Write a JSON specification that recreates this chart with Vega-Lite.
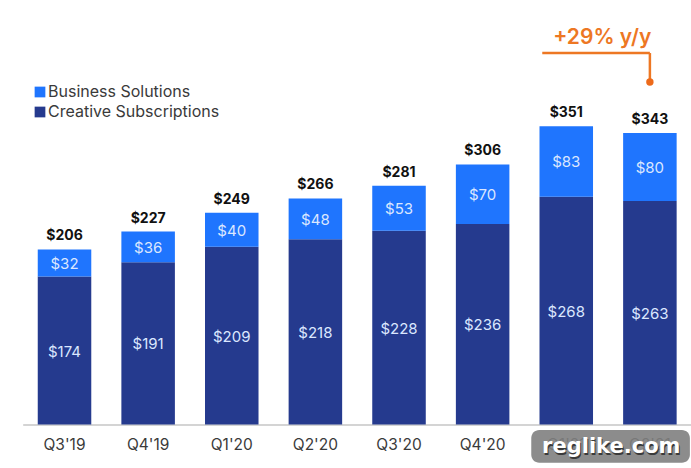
{
  "$schema": "https://vega.github.io/schema/vega-lite/v6.json",
  "width": 691,
  "height": 468,
  "padding": 0,
  "autosize": "none",
  "background": "white",
  "datasets": {
    "revenue": [
      {"quarter": "Q3'19", "segment": "Creative Subscriptions", "rank": 1, "revenue": 174},
      {"quarter": "Q3'19", "segment": "Business Solutions", "rank": 2, "revenue": 32},
      {"quarter": "Q4'19", "segment": "Creative Subscriptions", "rank": 1, "revenue": 191},
      {"quarter": "Q4'19", "segment": "Business Solutions", "rank": 2, "revenue": 36},
      {"quarter": "Q1'20", "segment": "Creative Subscriptions", "rank": 1, "revenue": 209},
      {"quarter": "Q1'20", "segment": "Business Solutions", "rank": 2, "revenue": 40},
      {"quarter": "Q2'20", "segment": "Creative Subscriptions", "rank": 1, "revenue": 218},
      {"quarter": "Q2'20", "segment": "Business Solutions", "rank": 2, "revenue": 48},
      {"quarter": "Q3'20", "segment": "Creative Subscriptions", "rank": 1, "revenue": 228},
      {"quarter": "Q3'20", "segment": "Business Solutions", "rank": 2, "revenue": 53},
      {"quarter": "Q4'20", "segment": "Creative Subscriptions", "rank": 1, "revenue": 236},
      {"quarter": "Q4'20", "segment": "Business Solutions", "rank": 2, "revenue": 70},
      {"quarter": "Q1'21", "segment": "Creative Subscriptions", "rank": 1, "revenue": 268},
      {"quarter": "Q1'21", "segment": "Business Solutions", "rank": 2, "revenue": 83},
      {"quarter": "Q2'21", "segment": "Creative Subscriptions", "rank": 1, "revenue": 263},
      {"quarter": "Q2'21", "segment": "Business Solutions", "rank": 2, "revenue": 80}
    ],
    "totals": [
      {"quarter": "Q3'19", "total": 206},
      {"quarter": "Q4'19", "total": 227},
      {"quarter": "Q1'20", "total": 249},
      {"quarter": "Q2'20", "total": 266},
      {"quarter": "Q3'20", "total": 281},
      {"quarter": "Q4'20", "total": 306},
      {"quarter": "Q1'21", "total": 351},
      {"quarter": "Q2'21", "total": 343}
    ]
  },
  "encoding": {
    "x": {
      "field": "quarter",
      "type": "nominal",
      "sort": null,
      "title": null,
      "scale": {"range": [22.7, 691.7], "paddingInner": 0.36, "paddingOuter": 0.18},
      "axis": {
        "offset": -43.5,
        "labelAngle": 0,
        "labelFont": "Inter",
        "labelFontSize": 15.5,
        "labelColor": "#3a3a3a",
        "labelPadding": 13,
        "ticks": false,
        "domainColor": "#a9a9a9",
        "domainWidth": 1
      }
    }
  },
  "layer": [
    {
      "data": {"name": "revenue"},
      "mark": {"type": "bar"},
      "encoding": {
        "y": {
          "field": "revenue",
          "type": "quantitative",
          "stack": "zero",
          "axis": null,
          "scale": {"domain": [-51.2, 499.4], "nice": false, "zero": false}
        },
        "color": {
          "field": "segment",
          "type": "nominal",
          "scale": {
            "domain": ["Business Solutions", "Creative Subscriptions"],
            "range": ["#1f75fe", "#253a8e"]
          },
          "legend": {
            "title": null,
            "orient": "none",
            "legendX": 32,
            "legendY": 84,
            "symbolType": "square",
            "symbolSize": 115,
            "symbolStrokeWidth": 0,
            "labelFont": "Inter",
            "labelFontSize": 16,
            "labelColor": "#3a3a3a",
            "labelOffset": 0,
            "labelLimit": 220,
            "rowPadding": 4,
            "padding": 0
          }
        },
        "order": {"field": "rank"}
      }
    },
    {
      "data": {"name": "revenue"},
      "mark": {"type": "text", "font": "Inter", "fontSize": 15, "color": "#dbe7ff", "dy": 1},
      "encoding": {
        "y": {"field": "revenue", "type": "quantitative", "stack": "zero", "bandPosition": 0.5},
        "order": {"field": "rank"},
        "text": {"field": "revenue", "type": "quantitative", "format": "$d"}
      }
    },
    {
      "data": {"name": "totals"},
      "mark": {"type": "text", "font": "Inter", "fontSize": 14, "fontWeight": "bold", "color": "#111111", "baseline": "bottom", "dy": -6},
      "encoding": {
        "y": {"field": "total", "type": "quantitative"},
        "text": {"field": "total", "type": "quantitative", "format": "$d"}
      }
    },
    {
      "data": {"values": [{"from": "Q1'21", "to": "Q2'21", "level": 437}]},
      "mark": {"type": "rule", "color": "#ed7723", "strokeWidth": 2.5, "xOffset": -24},
      "encoding": {
        "x": {"field": "from"},
        "x2": {"field": "to"},
        "y": {"field": "level", "type": "quantitative"}
      }
    },
    {
      "data": {"values": [{"quarter": "Q2'21", "level": 437, "end": 403}]},
      "mark": {"type": "rule", "color": "#ed7723", "strokeWidth": 2.5},
      "encoding": {
        "y": {"field": "level", "type": "quantitative"},
        "y2": {"field": "end"}
      }
    },
    {
      "data": {"values": [{"quarter": "Q2'21", "end": 403}]},
      "mark": {"type": "point", "filled": true, "opacity": 1, "size": 55, "color": "#ed6a1a"},
      "encoding": {
        "y": {"field": "end", "type": "quantitative"}
      }
    },
    {
      "data": {"values": [{"quarter": "Q1'21", "level": 455, "note": "+29% y/y"}]},
      "mark": {"type": "text", "font": "Inter", "fontSize": 21, "fontWeight": 600, "color": "#ed7723", "dx": 36},
      "encoding": {
        "y": {"field": "level", "type": "quantitative"},
        "text": {"field": "note"}
      }
    },
    {
      "data": {"values": [{"from": "Q1'21", "to": "Q2'21", "top": -6.5, "bottom": -45}]},
      "mark": {"type": "rect", "color": "#7f7f7f", "opacity": 0.9, "cornerRadius": 8, "xOffset": -35, "x2Offset": 40},
      "encoding": {
        "x": {"field": "from"},
        "x2": {"field": "to"},
        "y": {"field": "top", "type": "quantitative"},
        "y2": {"field": "bottom"}
      }
    },
    {
      "data": {"values": [{"quarter": "Q1'21", "level": -27, "mark": "reglike.com"}]},
      "mark": {"type": "text", "font": "DejaVu Sans", "fontSize": 21, "fontWeight": "bold", "color": "#3a3a3a", "dx": 46, "dy": 1.5},
      "encoding": {
        "y": {"field": "level", "type": "quantitative"},
        "text": {"field": "mark"}
      }
    },
    {
      "data": {"values": [{"quarter": "Q1'21", "level": -27, "mark": "reglike.com"}]},
      "mark": {"type": "text", "font": "DejaVu Sans", "fontSize": 21, "fontWeight": "bold", "color": "#ffffff", "dx": 45},
      "encoding": {
        "y": {"field": "level", "type": "quantitative"},
        "text": {"field": "mark"}
      }
    }
  ],
  "config": {"view": {"stroke": null}, "axis": {"grid": false}}
}
